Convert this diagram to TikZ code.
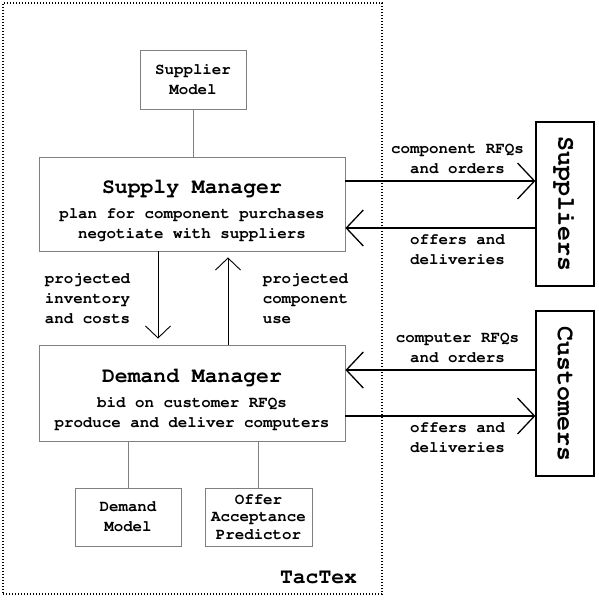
\documentclass[tikz,border=0pt]{standalone}
\usepackage[T1]{fontenc}
\usepackage{courier}
\usetikzlibrary{arrows.meta,positioning,calc}

\newcommand\smallfont{\fontsize{15.8}{20}\selectfont}
\newcommand\titlefont{\fontsize{21.4}{25}\selectfont}
\newcommand\bigfont{\fontsize{25}{30}\selectfont}

\begin{document}
\begin{tikzpicture}[x=1pt, y=-1pt, font=\ttfamily\bfseries\smallfont,
  part node/.style={draw=gray, line width=0.8pt, align=center, inner sep=0pt},
  ext node/.style={draw=black, line width=1.2pt, inner sep=0pt, font=\ttfamily\bfseries\bigfont},
  flow/.style={line width=1.3pt, -{Straight Barb[length=17pt,width=36pt]}},
  inner flow/.style={line width=0.9pt, shorten >=6pt, -{Straight Barb[length=12pt,width=25pt]}},
  link/.style={gray, line width=0.8pt},
  frame/.style={draw, dash pattern=on 1.2pt off 1.8pt, line width=1.2pt}]
\useasboundingbox (0,0) rectangle (598,600);
% agent frame
\node[frame, minimum width=379pt, minimum height=591pt] (tactex) at (192.5,298.5) {};
\node[anchor=south east, font=\ttfamily\bfseries\titlefont] (tactexname) at ([xshift=-22pt,yshift=7pt]tactex.south east) {TacTex};
% modules
\node[part node, minimum width=106pt, minimum height=59pt] (supmodel) at (193,79.5) {Supplier\\Model};
\node[part node, minimum width=306pt, minimum height=94pt] (supply) at (192,204) {\rule{0pt}{27pt}{\titlefont Supply Manager}\\[5pt]plan for component purchases\\negotiate with suppliers};
\node[part node, minimum width=306pt, minimum height=96pt] (demand) at (192,393) {\rule{0pt}{27pt}{\titlefont Demand Manager}\\[5pt]bid on customer RFQs\\produce and deliver computers};
\node[part node, minimum width=106pt, minimum height=58pt] (demmodel) at (128,517) {Demand\\Model};
\node[part node, minimum width=107pt, minimum height=58pt, font=\ttfamily\bfseries\fontsize{15.8}{17.5}\selectfont] (offer) at (258.5,517) {Offer\\Acceptance\\Predictor};
% outside world
\node[ext node, rotate=-90, minimum width=164pt, minimum height=58pt] (suppliers) at (565,204) {Suppliers};
\node[ext node, rotate=-90, minimum width=165pt, minimum height=58pt] (customers) at (565,393.5) {Customers};
% links
\draw[link] (supmodel) -- (supmodel |- supply.north);
\draw[link] (demand.south -| demmodel) -- (demmodel);
\draw[link] (demand.south -| offer) -- (offer);
% flows
\draw[flow] ([yshift=23pt]supply.east) -- node[pos=0.59, above=3pt, align=center] (compq) {component RFQs\\and orders} ([yshift=23pt]supply.east -| suppliers.south);
\draw[flow] ([yshift=-24pt]supply.east -| suppliers.south) -- node[pos=0.41, below=3pt, align=center] (supoff) {offers and\\deliveries} ([yshift=-24pt]supply.east);
\draw[flow] ([yshift=23pt]demand.east -| customers.south) -- node[pos=0.41, above=3pt, align=center] (compr) {computer RFQs\\and orders} ([yshift=23pt]demand.east);
\draw[flow] ([yshift=-23pt]demand.east) -- node[pos=0.59, below=3pt, align=center] (custoff) {offers and\\deliveries} ([yshift=-23pt]demand.east -| customers.south);
\draw[inner flow] ([xshift=-34pt]supply.south) -- node[left=24pt, align=left] (projinv) {projected\\inventory\\and costs} ([xshift=-34pt]demand.north);
\draw[inner flow] ([xshift=36pt]demand.north) -- node[right=31pt, align=left] (projuse) {projected\\component\\use} ([xshift=36pt]supply.south);
\end{tikzpicture}
\end{document}
